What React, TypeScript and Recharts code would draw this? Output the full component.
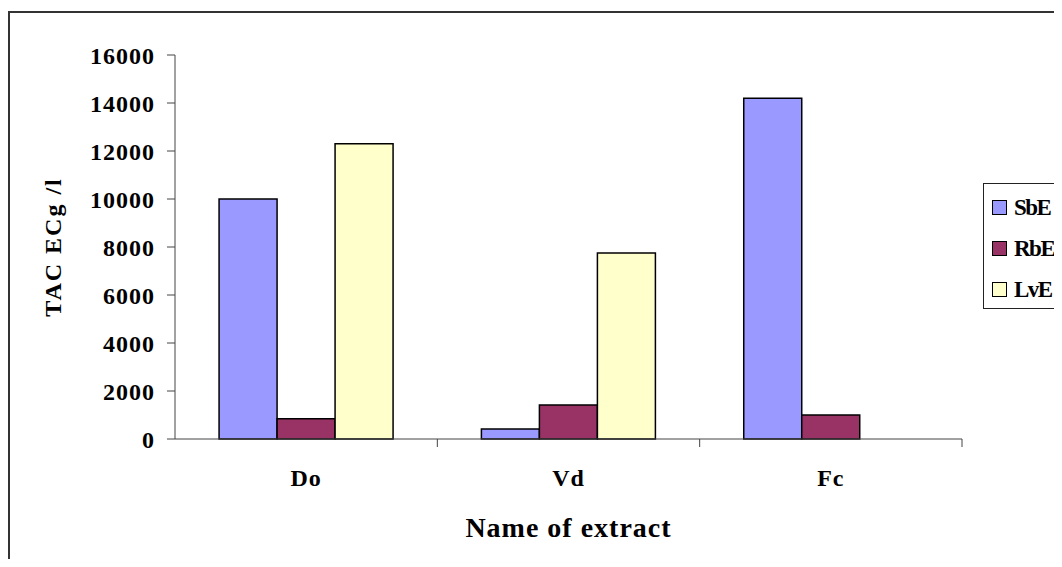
import React from "react";
import { BarChart, Bar, XAxis, YAxis, Label } from "recharts";

const extracts = ["Do", "Vd", "Fc"];
const sbe = [10000, 420, 14200];
const rbe = [840, 1420, 1000];
const lve = [12300, 7750, 0];
const yTicks = [0, 2000, 4000, 6000, 8000, 10000, 12000, 14000, 16000];

const seriesNames = ["SbE", "RbE", "LvE"];
const seriesColors = ["#9999FF", "#993366", "#FFFFCC"];

const data = extracts.map((name, i) => ({ name, SbE: sbe[i], RbE: rbe[i], LvE: lve[i] }));

const W = 1062;
const H = 567;
const margin = { top: 55, right: 100, left: 25, bottom: 18 };
const yAxisWidth = 150;
const band = (W - margin.left - margin.right - yAxisWidth) / extracts.length;

const font = "'Liberation Serif', 'Times New Roman', serif";
const tickStyle = { fontFamily: font, fontWeight: 700, fontSize: 24, fill: "#000", letterSpacing: 1 };

// category labels in the middle, tick marks on the category edges (Excel style)
function CategoryTick(props: any) {
  const { x, y, payload, index } = props;
  const axisY = y - 30;
  const left = x - band / 2;
  const right = x + band / 2;
  return (
    <g>
      {index > 0 && <line x1={left} x2={left} y1={axisY} y2={axisY + 8} stroke="#444" />}
      {index === extracts.length - 1 && <line x1={right} x2={right} y1={axisY} y2={axisY + 8} stroke="#444" />}
      <text x={x} y={y} dy="0.71em" textAnchor="middle" style={tickStyle}>
        {payload.value}
      </text>
    </g>
  );
}

export default function App() {
  return (
    <div style={{ position: "relative", width: W, height: H, margin: -8, overflow: "hidden", background: "#fff" }}>
      <div
        style={{
          position: "absolute",
          left: 8,
          top: 11,
          width: 1100,
          height: 600,
          border: "2px solid #333",
        }}
      />
      <div style={{ position: "absolute", left: 0, top: 0 }}>
        <BarChart width={W} height={H} data={data} margin={margin} barCategoryGap="16.8%" barGap={0}>
          <XAxis
            dataKey="name"
            height={110}
            axisLine={{ stroke: "#444" }}
            tickLine={false}
            tickSize={0}
            tickMargin={30}
            tick={<CategoryTick />}
          >
            <Label
              value="Name of extract"
              position="insideBottom"
              offset={12}
              style={{ fontFamily: font, fontWeight: 700, fontSize: 28, fill: "#000", letterSpacing: 1 }}
            />
          </XAxis>
          <YAxis
            width={yAxisWidth}
            domain={[0, 16000]}
            ticks={yTicks}
            interval={0}
            tickSize={8}
            tickMargin={12}
            axisLine={{ stroke: "#444" }}
            tickLine={{ stroke: "#444" }}
            tick={tickStyle}
          >
            <Label
              value="TAC ECg /l"
              angle={-90}
              position="insideLeft"
              offset={27}
              style={{ textAnchor: "middle", fontFamily: font, fontWeight: 700, fontSize: 24, fill: "#000", letterSpacing: 2 }}
            />
          </YAxis>
          {seriesNames.map((s, i) => (
            <Bar key={s} dataKey={s} fill={seriesColors[i]} stroke="#000" strokeWidth={1.5} isAnimationActive={false} />
          ))}
        </BarChart>
      </div>
      <div
        style={{
          position: "absolute",
          left: 983,
          top: 183,
          width: 120,
          height: 126,
          border: "1px solid #222",
          background: "#fff",
          boxSizing: "border-box",
          paddingTop: 3,
        }}
      >
        {seriesNames.map((s, i) => (
          <div key={s} style={{ display: "flex", alignItems: "center", height: 41, paddingLeft: 8 }}>
            <span
              style={{
                display: "inline-block",
                width: 13,
                height: 13,
                background: seriesColors[i],
                border: "1.5px solid #000",
                marginRight: 7,
              }}
            />
            <span style={{ fontFamily: font, fontWeight: 700, fontSize: 23, letterSpacing: -1.5, color: "#000" }}>{s}</span>
          </div>
        ))}
      </div>
    </div>
  );
}
